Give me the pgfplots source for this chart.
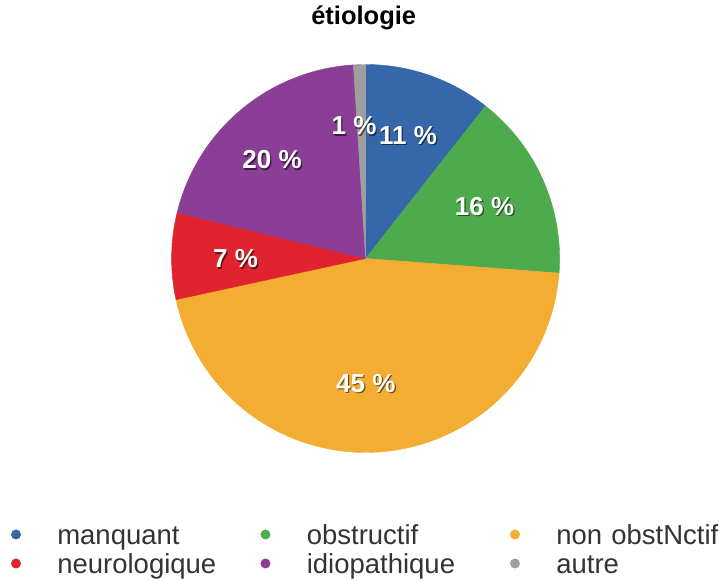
\documentclass[border=0pt]{standalone}
\usepackage{pgfplots}
\pgfplotsset{compat=1.18}
\usepackage{fontspec}
\setmainfont{Liberation Sans}

\definecolor{cBlue}{HTML}{3567AA}
\definecolor{cGreen}{HTML}{4DAB4E}
\definecolor{cOrange}{HTML}{F2AD32}
\definecolor{cRed}{HTML}{E0232E}
\definecolor{cPurple}{HTML}{8B3E96}
\definecolor{cGray}{HTML}{9E9E9E}
\definecolor{cText}{HTML}{333333}

% data (percent)
\newcommand\vManquant{10.6}
\newcommand\vObstructif{15.6}
\newcommand\vNonObstructif{45.4}
\newcommand\vNeurologique{7.2}
\newcommand\vIdiopathique{20.2}
\newcommand\vAutre{1.0}

\newcommand\cx{365.6}
\newcommand\cy{322.5}
\newcommand\R{194}
\newcommand\lr{130}
\newcommand\labfont{\fontsize{26}{26}\selectfont\bfseries}

\newcommand\cum{0}
\newcommand\slice[2]{%
  \pgfmathsetmacro\sa{\cum*3.6}%
  \pgfmathsetmacro\sb{(\cum+#1)*3.6}%
  \edef\doit{\noexpand\addplot[fill=#2, draw=#2, line width=0.4pt, domain=\sa:\sb, samples=90, forget plot] ({\cx+\R*sin(x)},{\cy+\R*cos(x)}) -- (axis cs:\cx,\cy) -- cycle;}%
  \doit
  \pgfmathsetmacro\tmp{\cum+#1}\xdef\cum{\tmp}%
}
% value, x nudge, y nudge
\newcommand\plabel[3]{%
  \pgfmathsetmacro\sm{(\cum+#1/2)*3.6}%
  \pgfmathsetmacro\lx{\cx+\lr*sin(\sm)+#2}%
  \pgfmathsetmacro\ly{\cy+\lr*cos(\sm)+#3}%
  \pgfmathsetmacro\sx{\lx+1.2}%
  \pgfmathsetmacro\sy{\ly-1.2}%
  \pgfmathtruncatemacro\lab{round(#1)}%
  \edef\doit{\noexpand\node[text=black, opacity=0.55, inner sep=0pt, font=\noexpand\labfont] at (axis cs:\sx,\sy) {\lab\noexpand\ \noexpand\%};
    \noexpand\node[text=white, inner sep=0pt, font=\noexpand\labfont] at (axis cs:\lx,\ly) {\lab\noexpand\ \noexpand\%};}%
  \doit
  \pgfmathsetmacro\tmp{\cum+#1}\xdef\cum{\tmp}%
}

\begin{document}
\begin{tikzpicture}
\begin{axis}[
  width=724pt, height=581pt, scale only axis,
  xmin=0, xmax=724, ymin=0, ymax=581,
  hide axis, clip=false,
  title={étiologie},
  title style={at={(axis cs:363.7,550.3)}, anchor=base, inner sep=0pt, font=\fontsize{25.5}{26}\selectfont\bfseries},
  legend columns=3,
  legend style={draw=none, fill=none, at={(axis cs:10.8,56.7)}, anchor=north west,
    inner sep=0pt, outer sep=0pt, column sep=0pt, row sep=2pt,
    font=\fontsize{27.5}{28}\selectfont,
    nodes={inner sep=0pt, anchor=base west, text height=20pt, text depth=7pt, text width=203pt, align=left, text=cText}},
  legend image code/.code={\path[draw=none, fill=none] (0pt,0pt) rectangle (46.5pt,1pt); \fill[#1, draw=none] (5.2pt,9.8pt) circle[radius=5pt];},
]
\slice{\vManquant}{cBlue}
\slice{\vObstructif}{cGreen}
\slice{\vNonObstructif}{cOrange}
\slice{\vNeurologique}{cRed}
\slice{\vIdiopathique}{cPurple}
\slice{\vAutre}{cGray}
\xdef\cum{0}
\plabel{\vManquant}{0}{0}
\plabel{\vObstructif}{0}{0}
\plabel{\vNonObstructif}{-8.7}{5}
\plabel{\vNeurologique}{0}{-2}
\plabel{\vIdiopathique}{-10}{-1}
\plabel{\vAutre}{-7.5}{2.6}

\addlegendimage{cBlue}\addlegendentry{manquant}
\addlegendimage{cGreen}\addlegendentry{obstructif}
\addlegendimage{cOrange}\addlegendentry{non obstNctif}
\addlegendimage{cRed}\addlegendentry{neurologique}
\addlegendimage{cPurple}\addlegendentry{idiopathique}
\addlegendimage{cGray}\addlegendentry{autre}
\end{axis}
\pgfresetboundingbox
\path (current axis.south west) rectangle (current axis.north east);
\end{tikzpicture}
\end{document}
